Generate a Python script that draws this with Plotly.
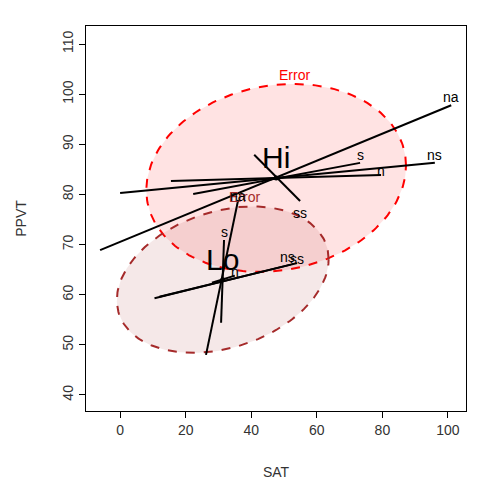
import numpy as np
import plotly.graph_objects as go

# group centres
groups = ["Hi", "Lo"]
centres = [(47.6, 83.3), (31.3, 63.0)]
# error ellipse: half extents and correlation
err_sx = [39.6, 32.3]
err_sy = [18.75, 14.6]
err_rho = [0.13, 0.28]
err_colors = ["red", "#A52A2A"]
err_fills = ["rgba(255,0,0,0.11)", "rgba(165,42,42,0.11)"]

# hypothesis lines (degenerate ellipses): endpoints
hyp_hi_names = ["na", "ns", "s", "n", "ss"]
hyp_hi_x0 = [-6.1, 0.0, 22.3, 15.5, 54.9]
hyp_hi_y0 = [68.9, 80.3, 80.1, 82.7, 78.7]
hyp_hi_x1 = [101.0, 96.0, 73.2, 79.6, 40.9]
hyp_hi_y1 = [97.8, 86.3, 86.3, 83.9, 87.9]
hyp_hi_lx = [101.0, 96.0, 73.2, 79.6, 54.9]
hyp_hi_ly = [99.5, 87.8, 87.8, 84.6, 76.3]

hyp_lo_names = ["na", "s", "ns", "ss", "n"]
hyp_lo_x0 = [26.2, 30.8, 10.5, 12.0, 28.0]
hyp_lo_y0 = [48.0, 54.4, 59.3, 59.6, 62.4]
hyp_lo_x1 = [36.0, 31.7, 52.0, 54.0, 35.0]
hyp_lo_y1 = [78.9, 70.9, 66.0, 66.3, 63.8]
hyp_lo_lx = [36.0, 31.7, 51.0, 54.0, 35.0]
hyp_lo_ly = [79.7, 72.5, 67.5, 67.2, 64.6]

fig = go.Figure()
t = np.linspace(0, 2 * np.pi, 200)
for i, g in enumerate(groups):
    cx, cy = centres[i]
    sx, sy, r = err_sx[i], err_sy[i], err_rho[i]
    ex = cx + sx * np.cos(t)
    ey = cy + sy * (r * np.cos(t) + np.sqrt(1 - r * r) * np.sin(t))
    fig.add_trace(go.Scatter(x=ex, y=ey, mode="lines", fill="toself",
                             fillcolor=err_fills[i],
                             line=dict(color=err_colors[i], dash="dash", width=2)))
    fig.add_annotation(x=cx + sx * r * 0.3 + 4, y=cy + sy + 1.8, text="Error",
                       showarrow=False, font=dict(color=err_colors[i], size=14))

for names, x0, y0, x1, y1, lx, ly in [
        (hyp_hi_names, hyp_hi_x0, hyp_hi_y0, hyp_hi_x1, hyp_hi_y1, hyp_hi_lx, hyp_hi_ly),
        (hyp_lo_names, hyp_lo_x0, hyp_lo_y0, hyp_lo_x1, hyp_lo_y1, hyp_lo_lx, hyp_lo_ly)]:
    for k, nm in enumerate(names):
        fig.add_trace(go.Scatter(x=[x0[k], x1[k]], y=[y0[k], y1[k]], mode="lines",
                                 line=dict(color="black", width=2)))
        fig.add_annotation(x=lx[k], y=ly[k], text=nm, showarrow=False,
                           font=dict(size=14, color="black"))

for i, g in enumerate(groups):
    fig.add_trace(go.Scatter(x=[centres[i][0]], y=[centres[i][1]], mode="markers",
                             marker=dict(color="black", size=5)))
    fig.add_annotation(x=centres[i][0], y=centres[i][1], text=g, showarrow=False,
                       yshift=20, font=dict(size=30, color="black"))

axis = dict(showgrid=False, zeroline=False, showline=True, mirror=True,
            linecolor="black", ticks="outside", ticklen=6, tickcolor="black",
            automargin=False, tickfont=dict(size=14, color="#333"),
            title_font=dict(size=14, color="#333"))
fig.update_layout(
    width=480, height=480, showlegend=False,
    plot_bgcolor="white", paper_bgcolor="white",
    font=dict(family="Liberation Sans, Arial"),
    margin=dict(l=78, r=22, t=18, b=77),
    xaxis=dict(axis, range=[-10.4, 105.5], tickvals=[0, 20, 40, 60, 80, 100],
               title=dict(text="SAT", standoff=30)),
    yaxis=dict(axis, range=[36.8, 113.6], tickvals=[40, 50, 60, 70, 80, 90, 100, 110],
               tickangle=-90, title=dict(text="PPVT", standoff=30)),
)
fig.write_html("out.html")
